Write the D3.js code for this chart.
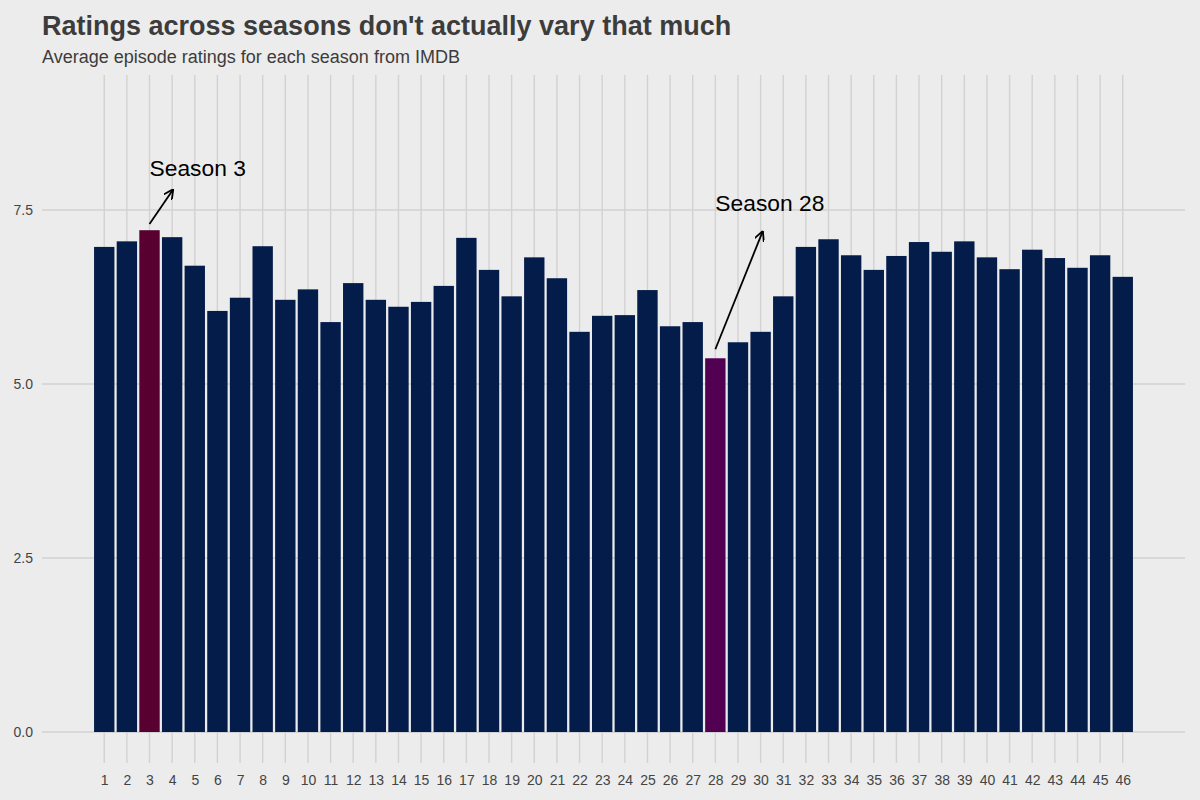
<!DOCTYPE html>
<html>
<head>
<meta charset="utf-8">
<script src="https://cdn.jsdelivr.net/npm/d3@7"></script>
<style>
  body { margin: 0; background: #ececec; }
  svg { display: block; font-family: "Liberation Sans", Arial, sans-serif; }
</style>
</head>
<body>
<svg id="chart" width="1200" height="800"></svg>
<script>
// average episode rating per season
var seasons = d3.range(1, 47);
var ratings = [6.97, 7.05, 7.21, 7.11, 6.70, 6.05, 6.24, 6.98, 6.21, 6.36,
               5.89, 6.45, 6.21, 6.11, 6.18, 6.41, 7.10, 6.64, 6.26, 6.82,
               6.52, 5.75, 5.98, 5.99, 6.35, 5.83, 5.89, 5.37, 5.60, 5.75,
               6.26, 6.97, 7.08, 6.85, 6.64, 6.84, 7.04, 6.90, 7.05, 6.82,
               6.65, 6.93, 6.81, 6.67, 6.85, 6.54];
var yTicks = [0, 2.5, 5, 7.5];
var highlight = {3: "#58002f", 28: "#520052"};

// annotations: label position and arrow from/to, in data units
var notes = [
  {label: "Season 3",  tx: 3,  ty: 8.1, x0: 3,  y0: 7.3, x1: 4.05, y1: 7.8},
  {label: "Season 28", tx: 28, ty: 7.6, x0: 28, y0: 5.5, x1: 30.1, y1: 7.2}
];

var data = seasons.map(function(s, i) { return {season: s, rating: ratings[i]}; });

var svg = d3.select("#chart");

svg.append("rect").attr("width", 1200).attr("height", 800).attr("fill", "#ececec");

var x = d3.scaleLinear().domain([-1.75, 48.75]).range([42, 1185]);
var y = d3.scaleLinear().domain([-0.445, 9.44]).range([763, 75]);

// grid
svg.append("g")
  .selectAll("line")
  .data(seasons)
  .join("line")
    .attr("x1", function(d) { return x(d); })
    .attr("x2", function(d) { return x(d); })
    .attr("y1", y.range()[1])
    .attr("y2", y.range()[0])
    .attr("stroke", "#d2d2d2")
    .attr("stroke-width", 1.4);

svg.append("g")
  .selectAll("line")
  .data(yTicks)
  .join("line")
    .attr("x1", x.range()[0])
    .attr("x2", x.range()[1])
    .attr("y1", function(d) { return y(d); })
    .attr("y2", function(d) { return y(d); })
    .attr("stroke", "#d2d2d2")
    .attr("stroke-width", 1.4);

// bars
var bw = x(0.9) - x(0);
svg.append("g")
  .selectAll("rect")
  .data(data)
  .join("rect")
    .attr("x", function(d) { return x(d.season) - bw / 2; })
    .attr("width", bw)
    .attr("y", function(d) { return y(d.rating); })
    .attr("height", function(d) { return y(0) - y(d.rating); })
    .attr("fill", function(d) { return highlight[d.season] || "#041c4a"; });

// axes (labels only)
var xAxis = svg.append("g")
    .attr("transform", "translate(0,772)")
    .call(d3.axisBottom(x).tickValues(seasons).tickFormat(d3.format("d")).tickSize(0));
xAxis.select(".domain").remove();

var yAxis = svg.append("g")
    .attr("transform", "translate(36,0)")
    .call(d3.axisLeft(y).tickValues(yTicks).tickFormat(d3.format(".1f")).tickSize(0));
yAxis.select(".domain").remove();

svg.selectAll(".tick text")
    .attr("font-family", "Liberation Sans, Arial, sans-serif")
    .attr("font-size", 14)
    .attr("fill", "#444");

// annotations
svg.append("defs").append("marker")
    .attr("id", "arrow")
    .attr("viewBox", "0 0 10 10")
    .attr("refX", 10).attr("refY", 5)
    .attr("markerWidth", 10).attr("markerHeight", 10)
    .attr("markerUnits", "userSpaceOnUse")
    .attr("orient", "auto")
  .append("path")
    .attr("d", "M0,0L10,5L0,10")
    .attr("fill", "none")
    .attr("stroke", "#000")
    .attr("stroke-width", 1.8);

svg.append("g")
  .selectAll("line")
  .data(notes)
  .join("line")
    .attr("x1", function(d) { return x(d.x0); })
    .attr("y1", function(d) { return y(d.y0); })
    .attr("x2", function(d) { return x(d.x1); })
    .attr("y2", function(d) { return y(d.y1); })
    .attr("stroke", "#000")
    .attr("stroke-width", 1.8)
    .attr("marker-end", "url(#arrow)");

svg.append("g")
  .selectAll("text")
  .data(notes)
  .join("text")
    .attr("x", function(d) { return x(d.tx); })
    .attr("y", function(d) { return y(d.ty); })
    .attr("dy", "0.35em")
    .attr("font-size", 22.8)
    .attr("fill", "#000")
    .text(function(d) { return d.label; });

// titles
svg.append("text")
    .attr("x", 42).attr("y", 35)
    .attr("font-size", 27)
    .attr("font-weight", "bold")
    .attr("fill", "#3c3c3c")
    .text("Ratings across seasons don't actually vary that much");

svg.append("text")
    .attr("x", 42).attr("y", 63)
    .attr("font-size", 18)
    .attr("fill", "#3c3c3c")
    .text("Average episode ratings for each season from IMDB");
</script>
</body>
</html>
